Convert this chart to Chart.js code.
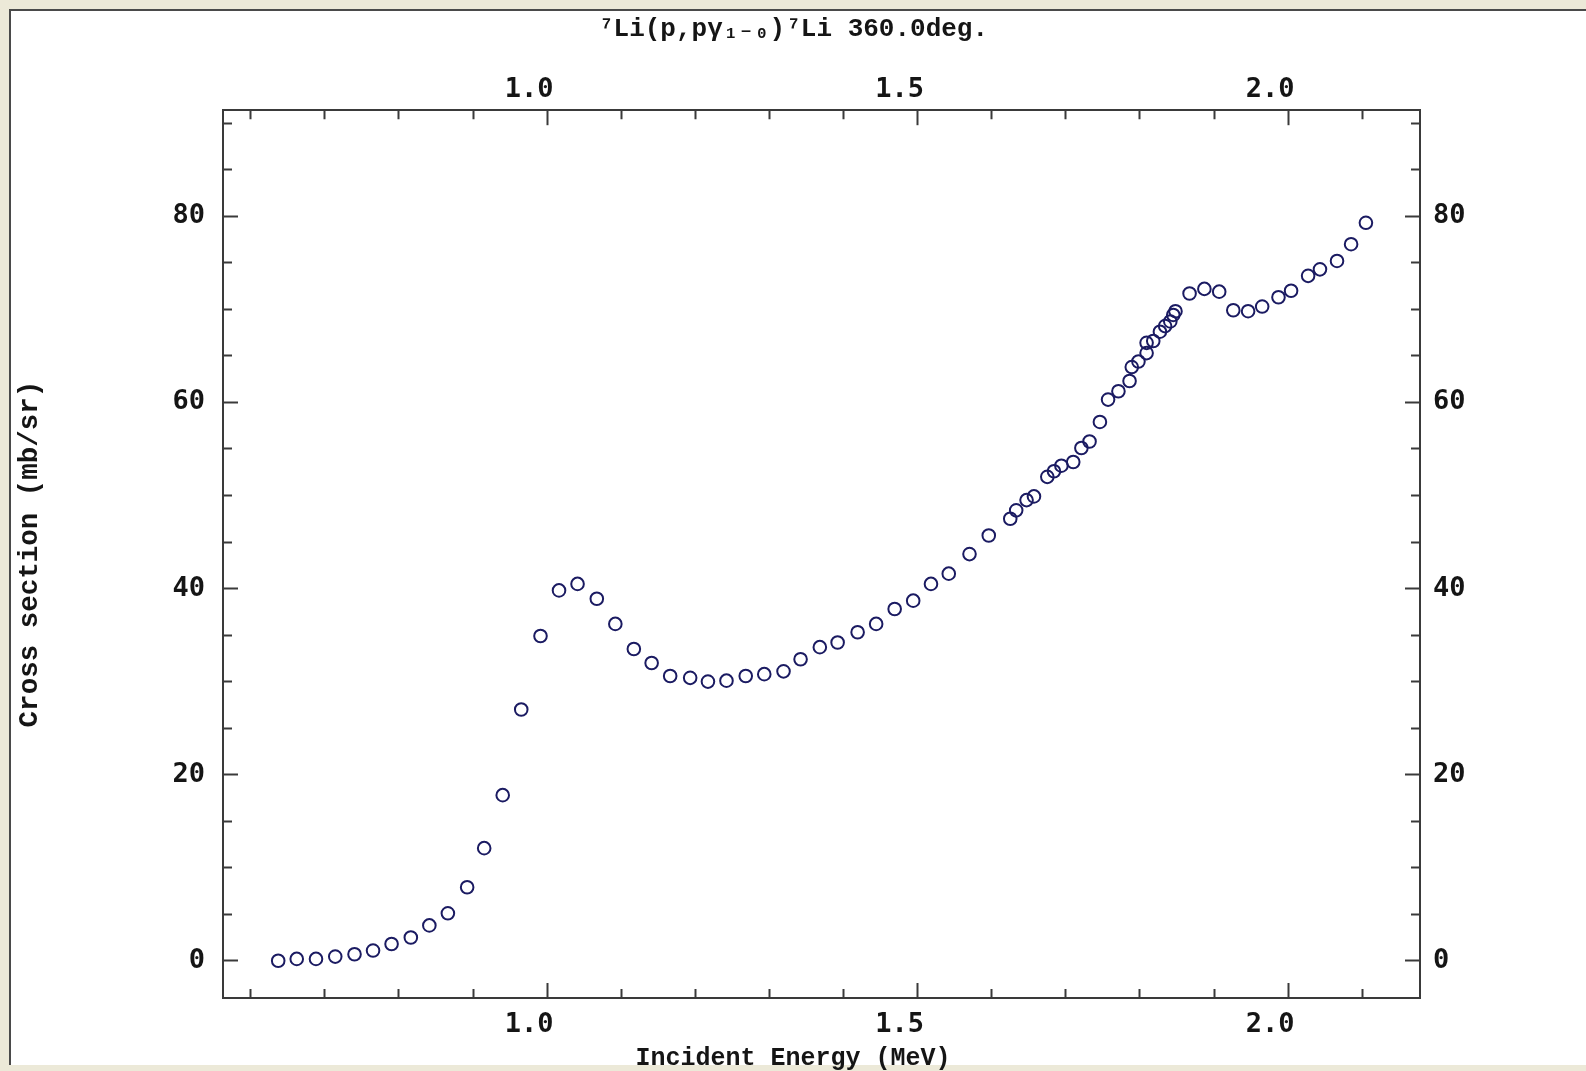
<!DOCTYPE html>
<html>
<head>
<meta charset="utf-8">
<title>7Li(p,p'gamma) cross section</title>
<script src="https://cdn.jsdelivr.net/npm/chart.js@4.4.1/dist/chart.umd.min.js"></script>
<style>
  html, body { margin: 0; padding: 0; background: #ECE9D8; overflow: hidden; }
  #panel {
    position: absolute; left: 9px; top: 9px; width: 1577px; height: 1056px;
    background: #fff; border-top: 2px solid #4a4a4a; border-left: 2px solid #4a4a4a;
    box-sizing: border-box;
  }
  #wrap { position: absolute; left: 0; top: 0; width: 1586px; height: 1071px; }
</style>
</head>
<body>
<div id="panel"></div>
<div id="wrap"><canvas id="xsChart"></canvas></div>
<script>
// incident proton energy (MeV) and measured cross section (mb/sr)
const energy = [
    0.637, 0.662, 0.688, 0.714, 0.740, 0.765, 0.790, 0.816, 0.841, 0.866,
    0.892, 0.915, 0.940, 0.965, 0.991, 1.016, 1.041, 1.067, 1.092, 1.117,
    1.141, 1.166, 1.193, 1.217, 1.242, 1.268, 1.293, 1.319, 1.342, 1.368,
    1.392, 1.419, 1.444, 1.469, 1.494, 1.518, 1.542, 1.570, 1.596, 1.625,
    1.633, 1.647, 1.657, 1.675, 1.684, 1.694, 1.710, 1.721, 1.732, 1.746,
    1.757, 1.771, 1.786, 1.789, 1.798, 1.809, 1.809, 1.818, 1.827, 1.834,
    1.841, 1.845, 1.848, 1.867, 1.887, 1.907, 1.926, 1.946, 1.965, 1.987,
    2.004, 2.027, 2.043, 2.066, 2.085, 2.105
];
const crossSection = [
    0.0, 0.2, 0.2, 0.45, 0.7, 1.1, 1.8, 2.5, 3.8, 5.1,
    7.9, 12.1, 17.8, 27.0, 34.9, 39.8, 40.5, 38.9, 36.2, 33.5,
    32.0, 30.6, 30.4, 30.0, 30.1, 30.6, 30.8, 31.1, 32.4, 33.7,
    34.2, 35.3, 36.2, 37.8, 38.7, 40.5, 41.6, 43.7, 45.7, 47.5,
    48.4, 49.5, 49.9, 52.0, 52.6, 53.2, 53.6, 55.1, 55.8, 57.9,
    60.3, 61.2, 62.3, 63.8, 64.4, 65.3, 66.4, 66.6, 67.6, 68.2,
    68.7, 69.4, 69.8, 71.7, 72.2, 71.9, 69.9, 69.8, 70.3, 71.3,
    72.0, 73.6, 74.3, 75.2, 77.0, 79.3
];

const xRange = [0.5625, 2.178];
const yRange = [-4, 91.4];
const xLabelStep = 0.5;   // labelled x ticks
const yLabelStep = 20;    // labelled y ticks

const titleText = '\u2077Li(p,p\u03b3\u2081\u208b\u2080)\u2077Li 360.0deg.';
const xTitle = 'Incident Energy (MeV)';
const yTitle = 'Cross section (mb/sr)';

const points = energy.map((e, i) => ({ x: e, y: crossSection[i] }));

const ink = '#151515';
const axisInk = '#3a3a3a';
const tickFont = { family: 'DejaVu Sans Mono', size: 27, weight: 'bold' };
const titleFont = { family: 'Liberation Mono, DejaVu Sans Mono', size: 25, weight: 'bold' };

function isLabelled(v, step) {
    const r = v / step;
    return Math.abs(r - Math.round(r)) < 1e-6;
}

// inward ticks: long at labelled values, short elsewhere (dash hides the rest)
function tickDash(step, fromInside) {
    return ctx => {
        if (!ctx.tick || isLabelled(ctx.tick.value, step)) return [];
        return fromInside ? [0, 6, 10, 40] : [10, 40];
    };
}

function xAxis(position, pad, size) {
    return {
        type: 'linear', position: position, display: true,
        min: xRange[0], max: xRange[1],
        border: { display: true, color: axisInk, width: 2 },
        grid: {
            drawOnChartArea: false, drawTicks: true, tickLength: -15,
            tickColor: axisInk, tickWidth: 2,
            tickBorderDash: tickDash(xLabelStep, position === 'top')
        },
        ticks: {
            stepSize: 0.1, includeBounds: false, autoSkip: false,
            maxRotation: 0, padding: pad, labelOffset: -18,
            color: ink, font: tickFont,
            callback: v => isLabelled(v, xLabelStep) ? v.toFixed(1) : ''
        },
        afterFit: s => { s.height = size; }
    };
}

function yAxis(position, pad, size) {
    return {
        type: 'linear', position: position, display: true,
        min: yRange[0], max: yRange[1],
        border: { display: true, color: axisInk, width: 2 },
        grid: {
            drawOnChartArea: false, drawTicks: true, tickLength: -15,
            tickColor: axisInk, tickWidth: 2,
            tickBorderDash: tickDash(yLabelStep, position === 'left')
        },
        ticks: {
            stepSize: 5, includeBounds: false, autoSkip: false,
            padding: pad, color: ink, font: tickFont,
            callback: v => isLabelled(v, yLabelStep) ? String(v) : ''
        },
        afterFit: s => { s.width = size; }
    };
}

const yLeft = yAxis('left', 33, 223);
yLeft.title = {
    display: true, text: yTitle, color: ink,
    font: Object.assign({}, titleFont, { size: 27.5 }),
    padding: { top: 14, bottom: 0 }
};

new Chart(document.getElementById('xsChart'), {
    type: 'scatter',
    data: {
        datasets: [{
            label: 'cross section',
            data: points,
            showLine: false,
            pointStyle: 'circle',
            pointRadius: 6.3,
            pointHoverRadius: 6.3,
            pointBorderWidth: 2,
            borderColor: '#1b1b62',
            backgroundColor: 'rgba(0,0,0,0)'
        }]
    },
    options: {
        responsive: true,
        maintainAspectRatio: false,
        animation: false,
        layout: { padding: 0 },
        scales: {
            x: xAxis('bottom', 26, 48),
            x2: xAxis('top', 19, 65),
            y: yLeft,
            y2: yAxis('right', 28, 166)
        },
        plugins: {
            legend: { display: false },
            tooltip: { enabled: false },
            title: {
                display: true, text: titleText, color: ink,
                font: Object.assign({}, titleFont, { size: 26 }),
                padding: { top: 14, bottom: 0 }
            },
            subtitle: {
                display: true, position: 'bottom', text: xTitle, color: ink,
                font: Object.assign({}, titleFont, { lineHeight: 1.0 }),
                padding: { top: 0, bottom: 0 }
            }
        }
    }
});
</script>
</body>
</html>
